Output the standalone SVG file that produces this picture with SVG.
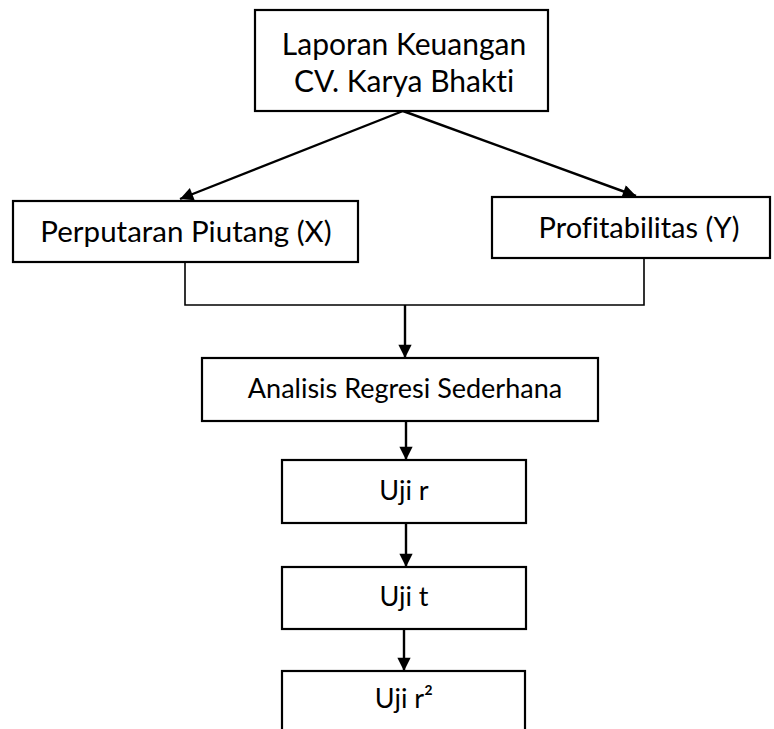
<svg xmlns="http://www.w3.org/2000/svg" width="774" height="729" viewBox="0 0 774 729">
<style>
.box{fill:#fff;stroke:#000;stroke-width:2.2}
.t{font-family:Lato,"Open Sans",sans-serif;fill:#000;text-anchor:middle;font-variant-ligatures:none}
.c{fill:none;stroke:#000;stroke-width:2.4}
.l{fill:none;stroke:#000;stroke-width:1.6}
</style>
<defs>
<marker id="ah" viewBox="0 0 10 10" refX="10" refY="5" markerWidth="6" markerHeight="5.5" markerUnits="strokeWidth" orient="auto">
<path d="M0,0 L10,5 L0,10 z" fill="#000"/>
</marker>
</defs>
<rect width="774" height="729" fill="#fff"/>
<g id="connectors">
<line class="c" x1="403" y1="111" x2="180" y2="199" marker-end="url(#ah)"/>
<line class="c" x1="403" y1="111" x2="636" y2="196" marker-end="url(#ah)"/>
<polyline class="l" points="185,262 185,305 644,305 644,258"/>
<line class="c" x1="405" y1="305" x2="405" y2="358" marker-end="url(#ah)"/>
<line class="c" x1="406" y1="421" x2="406" y2="460" marker-end="url(#ah)"/>
<line class="c" x1="406" y1="523" x2="406" y2="567" marker-end="url(#ah)"/>
<line class="c" x1="404" y1="629" x2="404" y2="671" marker-end="url(#ah)"/>
</g>
<g id="n1">
<rect class="box" x="255" y="10" width="293" height="101"/>
<text class="t" x="404" y="55" font-size="30">Laporan Keuangan</text>
<text class="t" x="404" y="92" font-size="30">CV. Karya Bhakti</text>
</g>
<g id="n2">
<rect class="box" x="13" y="201" width="345" height="61"/>
<text class="t" x="186" y="242" font-size="29.5">Perputaran Piutang (X)</text>
</g>
<g id="n3">
<rect class="box" x="492" y="197" width="278" height="61"/>
<text class="t" x="639" y="238" font-size="29">Profitabilitas (Y)</text>
</g>
<g id="n4">
<rect class="box" x="202" y="358" width="396" height="63"/>
<text class="t" x="405" y="398" font-size="27">Analisis Regresi Sederhana</text>
</g>
<g id="n5">
<rect class="box" x="282" y="460" width="244" height="63"/>
<text class="t" x="404" y="500" font-size="27">Uji r</text>
</g>
<g id="n6">
<rect class="box" x="282" y="567" width="244" height="62"/>
<text class="t" x="404" y="606" font-size="27">Uji t</text>
</g>
<g id="n7">
<rect class="box" x="282" y="671" width="243" height="70"/>
<text class="t" x="404" y="708" font-size="27">Uji r²</text>
</g>
</svg>
